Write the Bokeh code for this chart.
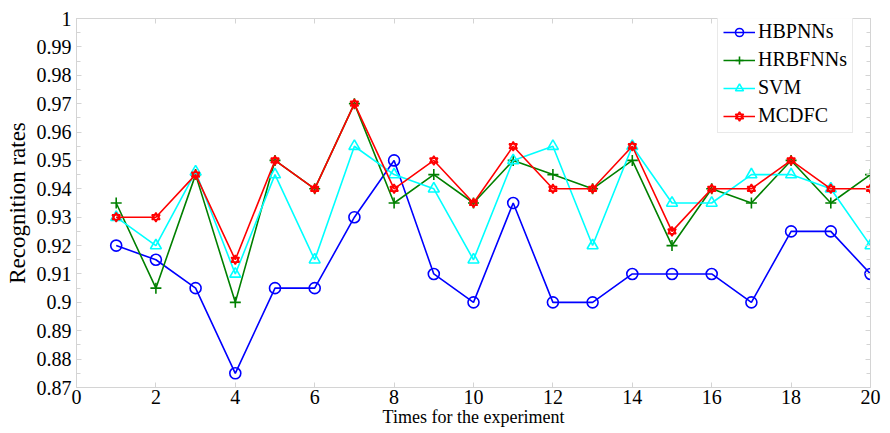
from bokeh.plotting import figure
from bokeh.models import (Range1d, LinearAxis, SingleIntervalTicker, CustomJSTickFormatter,
                          Legend, LegendItem)
from bokeh.embed import file_html
from bokeh.resources import INLINE

# ---- data ----
times = list(range(1, 21))
hbpnns = [0.92, 0.915, 0.905, 0.875, 0.905, 0.905, 0.93, 0.95, 0.91, 0.90,
          0.935, 0.90, 0.90, 0.91, 0.91, 0.91, 0.90, 0.925, 0.925, 0.91]
hrbfnns = [0.935, 0.905, 0.945, 0.90, 0.95, 0.94, 0.97, 0.935, 0.945, 0.935,
           0.95, 0.945, 0.94, 0.95, 0.92, 0.94, 0.935, 0.95, 0.935, 0.945]
svm = [0.93, 0.92, 0.946, 0.91, 0.945, 0.915, 0.955, 0.945, 0.94, 0.915,
       0.95, 0.955, 0.92, 0.955, 0.935, 0.935, 0.945, 0.945, 0.94, 0.92]
mcdfc = [0.93, 0.93, 0.945, 0.915, 0.95, 0.94, 0.97, 0.94, 0.95, 0.935,
         0.955, 0.94, 0.94, 0.955, 0.925, 0.94, 0.94, 0.95, 0.94, 0.94]
series_names = ["HBPNNs", "HRBFNNs", "SVM", "MCDFC"]
x_label = "Times for the experiment"
y_label = "Recognition rates"

FONT = "Liberation Serif"
GRAY = "#d4d4d4"

p = figure(width=890, height=433, output_backend="svg", toolbar_location=None,
           x_range=Range1d(0, 20), y_range=Range1d(0.87, 1.0),
           min_border_left=76, min_border_right=20, min_border_top=18, min_border_bottom=46)
p.grid.visible = False
p.outline_line_color = GRAY
p.background_fill_color = "white"
p.border_fill_color = "white"

xt = SingleIntervalTicker(interval=2, num_minor_ticks=0)
yt = SingleIntervalTicker(interval=0.01, num_minor_ticks=2)
fmt = CustomJSTickFormatter(code="return (Math.round(tick*1000)/1000).toString();")

p.xaxis.ticker = xt
p.yaxis.ticker = yt
p.yaxis.formatter = fmt

for ax in (p.xaxis[0], p.yaxis[0]):
    ax.axis_line_color = GRAY
    ax.major_tick_line_color = GRAY
    ax.minor_tick_line_color = GRAY
    ax.major_tick_in = 5
    ax.major_tick_out = 0
    ax.minor_tick_in = 4
    ax.minor_tick_out = 0
    ax.major_label_text_font = FONT
    ax.major_label_text_font_size = "20px"
    ax.major_label_text_color = "black"
    ax.axis_label_text_font = FONT
    ax.axis_label_text_font_style = "normal"
    ax.axis_label_text_color = "black"

p.xaxis.axis_label = x_label
p.xaxis.axis_label_text_font_size = "18px"
p.xaxis.major_label_standoff = 2
p.xaxis.axis_label_standoff = 0
p.yaxis.axis_label = y_label
p.yaxis.axis_label_text_font_size = "23px"
p.yaxis.major_label_standoff = 5
p.yaxis.axis_label_standoff = 4

for side, tk in (("above", xt), ("right", yt)):
    ax = LinearAxis(ticker=tk, axis_line_color=GRAY, major_tick_line_color=GRAY,
                    minor_tick_line_color=GRAY, major_tick_in=5, major_tick_out=0,
                    minor_tick_in=4, minor_tick_out=0,
                    major_label_text_font_size="0px", major_label_standoff=0,
                    major_label_text_color=None)
    p.add_layout(ax, side)

LW = 1.6
l1 = p.line(times, hbpnns, line_color="#0000ff", line_width=LW)
m1 = p.scatter(times, hbpnns, marker="circle", size=11, line_color="#0000ff",
               fill_color=None, line_width=LW)
l2 = p.line(times, hrbfnns, line_color="#008000", line_width=LW)
m2 = p.scatter(times, hrbfnns, marker="cross", size=11, line_color="#008000", line_width=LW)
l3 = p.line(times, svm, line_color="#00ffff", line_width=LW)
m3 = p.scatter(times, svm, marker="triangle", size=11, line_color="#00ffff",
               fill_color=None, line_width=LW)
l4 = p.line(times, mcdfc, line_color="#ff0000", line_width=LW)
m4a = p.scatter(times, mcdfc, marker="triangle", size=8, line_color="#ff0000",
                fill_color=None, line_width=LW)
m4b = p.scatter(times, mcdfc, marker="inverted_triangle", size=8, line_color="#ff0000",
                fill_color=None, line_width=LW)

legend = Legend(items=[
    LegendItem(label=series_names[0], renderers=[l1, m1]),
    LegendItem(label=series_names[1], renderers=[l2, m2]),
    LegendItem(label=series_names[2], renderers=[l3, m3]),
    LegendItem(label=series_names[3], renderers=[l4, m4a, m4b]),
], location=(641, 254), orientation="vertical",
    label_text_font=FONT, label_text_font_size="20px", label_text_color="black",
    border_line_color=GRAY, border_line_width=1, background_fill_color="white",
    padding=5, spacing=5, label_height=20, glyph_height=20, glyph_width=32,
    label_standoff=3, margin=0)
p.add_layout(legend, "center")

open("out.html", "w").write(file_html(p, INLINE))
